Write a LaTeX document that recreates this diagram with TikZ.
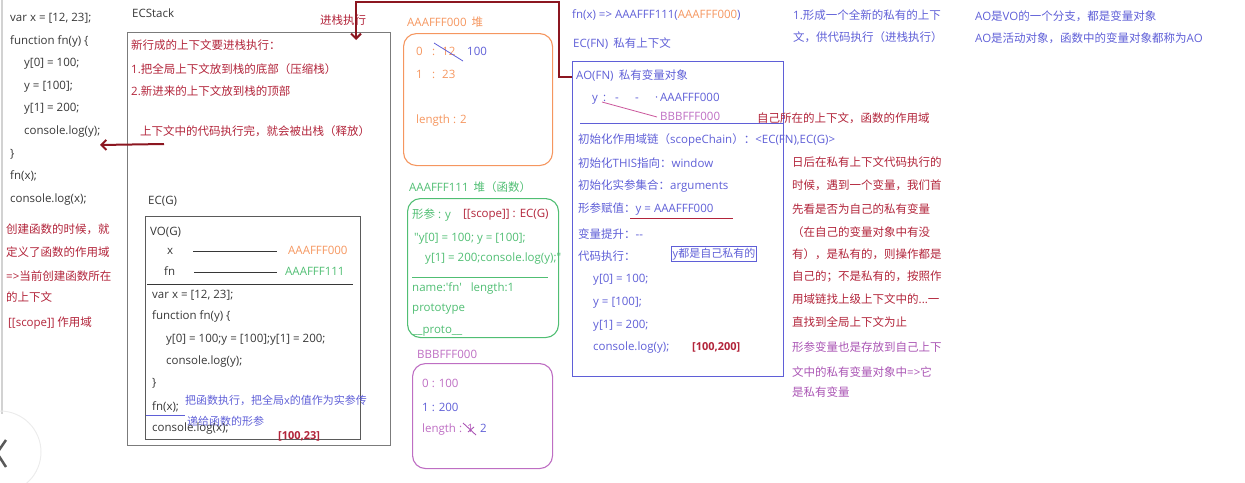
\documentclass[tikz,border=0pt]{standalone}
\usepackage{fontspec}
\setmainfont{Noto Sans CJK SC}
\newfontfamily\lat{Open Sans}
\usetikzlibrary{arrows.meta}
\definecolor{ctext}{RGB}{55,55,55}
\definecolor{cred}{RGB}{178,36,58}
\definecolor{dred}{RGB}{140,22,32}
\definecolor{corange}{RGB}{245,150,95}
\definecolor{cgreen}{RGB}{80,190,115}
\definecolor{cblue}{RGB}{95,95,215}
\definecolor{cpurple}{RGB}{190,110,195}
\definecolor{cviolet}{RGB}{170,85,180}
\definecolor{cbox}{RGB}{90,90,90}
\newcommand{\sq}{\symbol{39}}
\newcommand{\dq}{\symbol{34}}
\begin{document}
\begin{tikzpicture}[x=1pt,y=-1pt,
  t/.style={anchor=west,inner sep=0pt,text height=8.5pt,text depth=2.5pt,font=\fontsize{11.5}{13}\selectfont,text=ctext},
  rt/.style={t,text=cred},
  bt/.style={t,text=cblue},
  ot/.style={t,text=corange},
  gt/.style={t,text=cgreen},
  pt/.style={t,text=cpurple},
  vt/.style={t,text=cviolet},
  sqbox/.style={draw=#1,line width=1.1pt,anchor=north west,inner sep=0pt},
  rbox/.style={draw=#1,line width=1.1pt,anchor=north west,inner sep=0pt,rounded corners=13pt},
  redconn/.style={draw=dred,line width=2pt,-{Straight Barb[length=5pt,width=10pt]}}
]
\useasboundingbox (0,0) rectangle (1245,482);
% screenshot edge and carousel control
\draw[gray!35,line width=2pt] (1.5,0) -- (1.5,414);
\draw[gray!15,line width=1pt] (0,452) circle[radius=41];
\draw[gray!70!black,line width=2.5pt] (6,440) -- (-3,453) -- (6,467);

% left code
\node[t] (c1) at (10,18) {\lat var x = [12, 23];};
\node[t] (c2) at (10,41) {\lat function fn(y) \{};
\node[t] (c3) at (24,63) {\lat y[0] = 100;};
\node[t] (c4) at (24,86) {\lat y = [100];};
\node[t] (c5) at (24,108) {\lat y[1] = 200;};
\node[t] (c6) at (24,131) {\lat console.log(y);};
\node[t] (c7) at (10,154) {\lat \}};
\node[t] (c8) at (10,176) {\lat fn(x);};
\node[t] (c9) at (10,199) {\lat console.log(x);};
\node[rt] (l1) at (6,230) {创建函数的时候，就};
\node[rt] (l2) at (6,253) {定义了函数的作用域};
\node[rt] (l3) at (6,277) {{\lat =>}当前创建函数所在};
\node[rt] (l4) at (6,298) {的上下文};
\node[rt] (l5) at (8,323) {{\lat [[scope]]} 作用域};

% ECStack
\node[t] (ecsl) at (132,14) {\lat ECStack};
\node[sqbox=cbox!80,minimum width=263pt,minimum height=413pt] (ecstack) at (127,32) {};
\node[rt] (s1) at (131,46) {新行成的上下文要进栈执行：};
\node[rt] (s2) at (131,70) {{\lat 1.}把全局上下文放到栈的底部（压缩栈）};
\node[rt] (s3) at (131,92) {{\lat 2.}新进来的上下文放到栈的顶部};
\node[rt] (s4) at (140,132) {上下文中的代码执行完，就会被出栈（释放）};
\node[rt] (push) at (320,21) {进栈执行};
\coordinate (popstart) at (164,144);
\coordinate (poptip) at (100,145);
\draw[redconn] (popstart) -- (poptip);

% EC(G)
\node[t] (ecgl) at (148,201) {\lat EC(G)};
\node[sqbox=cbox,minimum width=215pt,minimum height=223pt] (ecg) at (145,216) {};
\node[t] (vo) at (150,232) {\lat VO(G)};
\node[t] (vx) at (167,251) {\lat x};
\node[ot] (vxa) at (288,251) {\lat AAAFFF000};
\draw[ctext,line width=0.8pt] (193,251) -- (277,251);
\node[t] (vfn) at (164,272) {\lat fn};
\node[gt] (vfna) at (285,272) {\lat AAAFFF111};
\draw[ctext,line width=0.8pt] (194,272) -- (277,272);
\draw[ctext,line width=1pt] (147,284) -- (353,284);
\node[t] (g1) at (152,295) {\lat var x = [12, 23];};
\node[t] (g2) at (152,316) {\lat function fn(y) \{};
\node[t] (g3) at (166,339) {\lat y[0] = 100;y = [100];y[1] = 200;};
\node[t] (g4) at (166,361) {\lat console.log(y);};
\node[t] (g5) at (152,383) {\lat \}};
\node[t] (g6) at (152,407) {\lat fn(x);};
\draw[cblue,line width=1pt] (146,415) -- (185,415);
\node[bt,font=\fontsize{11}{13}\selectfont] (g6n) at (185,401) {把函数执行，把全局{\lat x}的值作为实参传};
\node[bt,font=\fontsize{11}{13}\selectfont] (g6m) at (187,422) {递给函数的形参};
\node[t] (g7) at (152,428) {\lat console.log(x);};
\node[rt,font=\bfseries\fontsize{11}{13}\selectfont] (g8) at (278,436) {\lat [100,23]};

% heap AAAFFF000
\node[ot] (h0l) at (407,23) {{\lat AAAFFF000}\ \ 堆};
\node[rbox=corange,minimum width=149pt,minimum height=132pt] (h0) at (403,33) {};
\node[ot] (h0a) at (416,52) {\lat 0};
\node[ot] (h0b) at (432,52) {\lat :};
\node[ot] (h0c) at (442,52) {\lat 12};
\node[bt] (h0d) at (467,52) {\lat 100};
\draw[cblue,line width=0.8pt] (434,43) -- (463,61);
\node[ot] (h0e) at (416,75) {\lat 1};
\node[ot] (h0f) at (432,75) {\lat :};
\node[ot] (h0g) at (442,75) {\lat 23};
\node[ot] (h0h) at (416,120) {\lat length : 2};

% heap AAAFFF111
\node[gt] (h1l) at (409,188) {{\lat AAAFFF111}\ \ 堆（函数）};
\node[rbox=cgreen,minimum width=151pt,minimum height=139pt] (h1) at (407,198) {};
\node[gt] (h1a) at (412,215) {形参{\lat\ : y}};
\node[rt] (h1b) at (463,214) {\lat [[scope]] : EC(G)};
\node[gt] (h1c) at (414,238) {\lat \dq y[0] = 100; y = [100];};
\node[gt] (h1d) at (425,258) {\lat y[1] = 200;console.log(y);\dq};
\draw[cgreen,line width=1pt] (412,277) -- (548,277);
\node[gt] (h1e) at (412,288) {\lat name:\sq fn\sq\ \ \ length:1};
\node[gt] (h1f) at (412,308) {\lat prototype};
\node[gt] (h1g) at (412,330) {\lat \_\_proto\_\_};

% heap BBBFFF000
\node[pt] (h2l) at (417,355) {\lat BBBFFF000};
\node[rbox=cpurple,minimum width=140pt,minimum height=105pt] (h2) at (412,363) {};
\node[pt] (h2a) at (422,384) {\lat 0 : 100};
\node[bt] (h2b) at (422,408) {\lat 1 : 200};
\node[pt] (h2c) at (422,429) {\lat length :};
\node[pt] (h2d) at (467,429) {\lat 1};
\draw[cviolet,line width=0.9pt] (463,423) -- (476,435) (468,432) -- (474,427);
\node[bt] (h2e) at (480,429) {\lat 2};

% EC(FN)
\node[bt] (fnx) at (572,15) {\lat fn(x) => AAAFFF111({\color{corange}AAAFFF000})};
\node[bt] (ecfnl) at (573,44) {{\lat EC(FN)}\ \ 私有上下文};
\node[sqbox=cblue,minimum width=211pt,minimum height=315pt] (ao) at (572,61) {};
\node[bt] (aol) at (576,76) {{\lat AO(FN)}\ \ 私有变量对象};
\node[bt] (ay) at (592,98) {\lat y};
\node[bt] (ac) at (603,98) {\lat :};
\node[bt] (ad1) at (615,98) {\lat -};
\node[bt] (ad2) at (635,98) {\lat -};
\node[bt] (adot) at (655,98) {\lat\textperiodcentered};
\node[bt] (aa) at (660,98) {\lat AAAFFF000};
\draw[cpurple!80!red,line width=0.8pt] (602,102) -- (657,117);
\node[pt] (ab) at (660,117) {\lat BBBFFF000};
\draw[cblue,line width=1pt] (580,123) -- (783,123);
\node[rt] (own) at (757,119) {自己所在的上下文，函数的作用域};
\node[bt] (a1) at (578,140) {初始化作用域链（{\lat scopeChain}）：{\lat <EC(FN),EC(G)>}};
\node[bt] (a2) at (578,164) {初始化{\lat THIS}指向：{\lat window}};
\node[bt] (a3) at (578,186) {初始化实参集合：{\lat arguments}};
\node[bt] (a4) at (578,209) {形参赋值：{\lat y = AAAFFF000}};
\draw[cred,line width=0.9pt] (630,218) -- (733,218);
\node[bt] (a5) at (578,235) {变量提升：{\lat -{}-}};
\node[bt] (a6) at (578,257) {代码执行：};
\node[draw=cblue,line width=1pt,inner sep=1.5pt,text=cblue,font=\fontsize{11}{13}\selectfont] (priv) at (714,254) {{\lat y}都是自己私有的};
\node[bt] (a7) at (593,279) {\lat y[0] = 100;};
\node[bt] (a8) at (593,302) {\lat y = [100];};
\node[bt] (a9) at (593,325) {\lat y[1] = 200;};
\node[bt] (a10) at (593,347) {\lat console.log(y);};
\node[rt,font=\bfseries\fontsize{11}{13}\selectfont] (a11) at (692,347) {\lat [100,200]};

% connector: function enters the stack
\coordinate (aoin) at (572,77);
\coordinate (stacktop) at (356,40);
\draw[redconn] (aoin) -- (559,77) -- (559,2) -- (356,2) -- (stacktop);

% right notes
\node[bt] (r1) at (793,16) {{\lat 1.}形成一个全新的私有的上下};
\node[bt] (r2) at (793,38) {文，供代码执行（进栈执行）};
\node[rt] (r3) at (792,163) {日后在私有上下文代码执行的};
\node[rt] (r4) at (792,186) {时候，遇到一个变量，我们首};
\node[rt] (r5) at (792,210) {先看是否为自己的私有变量};
\node[rt] (r6) at (792,233) {（在自己的变量对象中有没};
\node[rt] (r7) at (792,255) {有），是私有的，则操作都是};
\node[rt] (r8) at (792,277) {自己的；不是私有的，按照作};
\node[rt] (r9) at (792,300) {用域链找上级上下文中的{\lat ...}一};
\node[rt] (r10) at (792,323) {直找到全局上下文为止};
\node[vt] (r11) at (792,348) {形参变量也是存放到自己上下};
\node[vt] (r12) at (792,373) {文中的私有变量对象中{\lat =>}它};
\node[vt] (r13) at (792,393) {是私有变量};
\node[bt] (f1) at (975,17) {{\lat AO}是{\lat VO}的一个分支，都是变量对象};
\node[bt] (f2) at (975,39) {{\lat AO}是活动对象，函数中的变量对象都称为{\lat AO}};
\end{tikzpicture}
\end{document}
